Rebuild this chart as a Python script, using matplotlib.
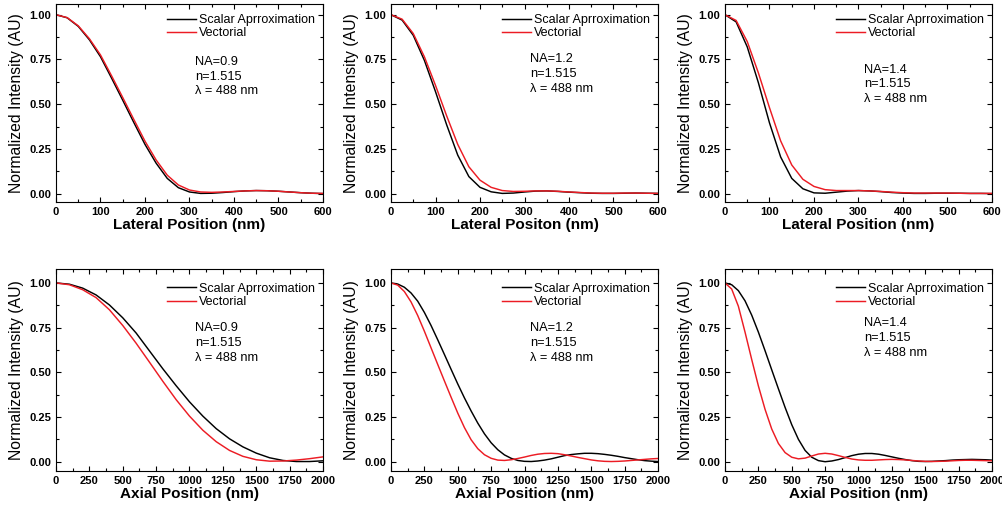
import numpy as np
import matplotlib
matplotlib.use("Agg")
import matplotlib.pyplot as plt
from matplotlib.ticker import MultipleLocator, FormatStrFormatter

plt.rcParams['font.family'] = ['Liberation Sans', 'DejaVu Sans']

# ---------------- data ----------------
lat_x = [0, 25, 50, 75, 100, 125, 150, 175, 200, 225, 250, 275, 300, 325, 350,
         375, 400, 425, 450, 475, 500, 525, 550, 575, 600]

lat09_scalar = [1.0, 0.983, 0.935, 0.86, 0.765, 0.645, 0.522, 0.397, 0.275, 0.17, 0.085,
                0.033, 0.009, 0.001, 0.002, 0.006, 0.011, 0.015, 0.017, 0.016, 0.013,
                0.009, 0.005, 0.002, 0.0]
lat09_vector = [1.0, 0.984, 0.938, 0.866, 0.775, 0.658, 0.537, 0.414, 0.293, 0.188, 0.103,
                0.048, 0.02, 0.009, 0.007, 0.009, 0.012, 0.015, 0.017, 0.016, 0.013,
                0.009, 0.005, 0.002, 0.001]

lat12_scalar = [1.0, 0.97, 0.885, 0.745, 0.57, 0.385, 0.215, 0.095, 0.035, 0.01, 0.001,
                0.003, 0.009, 0.014, 0.015, 0.012, 0.008, 0.005, 0.002, 0.001, 0.001,
                0.002, 0.003, 0.002, 0.001]
lat12_vector = [1.0, 0.975, 0.895, 0.765, 0.605, 0.435, 0.275, 0.15, 0.075, 0.035, 0.017,
                0.012, 0.013, 0.015, 0.015, 0.013, 0.009, 0.006, 0.003, 0.002, 0.002,
                0.003, 0.003, 0.002, 0.001]

lat14_scalar = [1.0, 0.96, 0.82, 0.62, 0.395, 0.205, 0.085, 0.027, 0.004, 0.002, 0.008,
                0.014, 0.017, 0.015, 0.011, 0.006, 0.003, 0.001, 0.001, 0.002, 0.002,
                0.002, 0.001, 0.001, 0.0]
lat14_vector = [1.0, 0.968, 0.85, 0.675, 0.48, 0.295, 0.16, 0.08, 0.04, 0.022, 0.017,
                0.017, 0.017, 0.015, 0.012, 0.008, 0.005, 0.003, 0.003, 0.003, 0.003,
                0.002, 0.001, 0.001, 0.001]

ax09_x = [0, 100, 200, 300, 400, 500, 600, 700, 800, 900, 1000, 1100, 1200, 1300, 1400,
          1500, 1600, 1700, 1800, 1900, 2000]
ax09_scalar = [1.0, 0.993, 0.971, 0.933, 0.877, 0.805, 0.72, 0.62, 0.52, 0.425, 0.335,
               0.255, 0.185, 0.128, 0.083, 0.048, 0.022, 0.007, 0.001, 0.001, 0.005]
ax09_vector = [1.0, 0.99, 0.962, 0.918, 0.85, 0.762, 0.663, 0.557, 0.45, 0.347, 0.255,
               0.176, 0.112, 0.063, 0.03, 0.011, 0.003, 0.004, 0.009, 0.017, 0.027]

ax_x = [0, 50, 100, 150, 200, 250, 300, 350, 400, 450, 500, 550, 600, 650, 700, 750,
        800, 850, 900, 950, 1000, 1050, 1100, 1150, 1200, 1250, 1300, 1350, 1400, 1450,
        1500, 1550, 1600, 1650, 1700, 1750, 1800, 1850, 1900, 1950, 2000]

ax12_scalar = [1.0, 0.994, 0.976, 0.944, 0.898, 0.835, 0.762, 0.682, 0.6, 0.517, 0.435,
               0.357, 0.284, 0.216, 0.156, 0.106, 0.067, 0.038, 0.019, 0.007, 0.002, 0.001,
               0.004, 0.009, 0.016, 0.025, 0.034, 0.04, 0.044, 0.047, 0.047, 0.045, 0.041,
               0.036, 0.03, 0.023, 0.017, 0.011, 0.006, 0.003, 0.001]
ax12_vector = [1.0, 0.988, 0.952, 0.894, 0.818, 0.73, 0.637, 0.544, 0.452, 0.361, 0.272,
               0.191, 0.123, 0.073, 0.039, 0.019, 0.009, 0.007, 0.011, 0.018, 0.026, 0.035,
               0.042, 0.046, 0.047, 0.045, 0.039, 0.032, 0.024, 0.017, 0.01, 0.005, 0.002,
               0.001, 0.002, 0.004, 0.007, 0.01, 0.013, 0.016, 0.018]

ax14_scalar = [1.0, 0.99, 0.957, 0.9, 0.82, 0.725, 0.621, 0.514, 0.408, 0.304, 0.207,
               0.125, 0.063, 0.025, 0.006, 0.0, 0.004, 0.012, 0.023, 0.034, 0.042, 0.046,
               0.046, 0.042, 0.035, 0.027, 0.019, 0.012, 0.006, 0.002, 0.001, 0.002, 0.004,
               0.006, 0.009, 0.011, 0.012, 0.013, 0.012, 0.011, 0.009]
ax14_vector = [1.0, 0.966, 0.87, 0.725, 0.572, 0.424, 0.293, 0.183, 0.102, 0.051, 0.025,
               0.016, 0.02, 0.032, 0.043, 0.047, 0.043, 0.034, 0.024, 0.015, 0.01, 0.008,
               0.008, 0.01, 0.012, 0.013, 0.012, 0.01, 0.007, 0.004, 0.002, 0.001, 0.002,
               0.003, 0.005, 0.007, 0.008, 0.008, 0.007, 0.006, 0.005]

series_labels = ["Scalar Aprroximation", "Vectorial"]
na_labels = ["NA=0.9", "NA=1.2", "NA=1.4"]
medium_label = "n=1.515"
wave_label = "\u03bb = 488 nm"
top_xlabels = ["Lateral Position (nm)", "Lateral Positon (nm)", "Lateral Position (nm)"]
bottom_xlabel = "Axial Position (nm)"
ylabel = "Normalized Intensity (AU)"

panels = [
    (lat_x, lat09_scalar, lat09_vector, na_labels[0], top_xlabels[0]),
    (lat_x, lat12_scalar, lat12_vector, na_labels[1], top_xlabels[1]),
    (lat_x, lat14_scalar, lat14_vector, na_labels[2], top_xlabels[2]),
    (ax09_x, ax09_scalar, ax09_vector, na_labels[0], bottom_xlabel),
    (ax_x, ax12_scalar, ax12_vector, na_labels[1], bottom_xlabel),
    (ax_x, ax14_scalar, ax14_vector, na_labels[2], bottom_xlabel),
]

# ---------------- layout ----------------
W, H = 1003, 508
fig = plt.figure(figsize=(W / 100, H / 100), dpi=100)

lefts = [56, 391, 725]
width = 267
rows = [(4, 202), (269, 471)]
note_y = [0.708, 0.72, 0.669, 0.708, 0.708, 0.733]

RED = '#ec1c24'

for i, (x, ys, yv, na, xl) in enumerate(panels):
    r, c = divmod(i, 3)
    top, bot = rows[r]
    ax = fig.add_axes([lefts[c] / W, 1 - bot / H, width / W, (bot - top) / H])
    ax.plot(x, ys, color='black', lw=1.05, label=series_labels[0])
    ax.plot(x, yv, color=RED, lw=1.05, label=series_labels[1])

    if r == 0:
        ax.set_xlim(0, 600)
        ax.set_ylim(-0.047, 1.06)
        ax.xaxis.set_major_locator(MultipleLocator(100))
        ax.xaxis.set_minor_locator(MultipleLocator(50))
    else:
        ax.set_xlim(0, 2000)
        ax.set_ylim(-0.052, 1.078)
        ax.xaxis.set_major_locator(MultipleLocator(250))
        ax.xaxis.set_minor_locator(MultipleLocator(125))
    ax.yaxis.set_major_locator(MultipleLocator(0.25))
    ax.yaxis.set_minor_locator(MultipleLocator(0.125))
    ax.yaxis.set_major_formatter(FormatStrFormatter('%.2f'))

    ax.tick_params(which='both', direction='in', top=True, right=True, width=0.8)
    ax.tick_params(which='major', length=3.5, pad=3.5, labelsize=8)
    ax.tick_params(which='minor', length=2)
    for lab in ax.get_xticklabels() + ax.get_yticklabels():
        lab.set_fontweight('bold')
    for sp in ax.spines.values():
        sp.set_linewidth(0.8)

    ax.set_xlabel(xl, fontsize=11, fontweight='bold', labelpad=1)
    ax.set_ylabel(ylabel, fontsize=11.3, labelpad=4)

    leg_top = 0.95 if r == 0 else 0.932
    ax.legend(loc='upper left', bbox_to_anchor=(0.415, leg_top), frameon=False,
              fontsize=9, handlelength=2.3, handletextpad=0.3, labelspacing=0.12,
              borderpad=0, borderaxespad=0)

    ny = note_y[i]
    dy = 14.8 / (bot - top)
    for k, t in enumerate([na, medium_label, wave_label]):
        ax.text(0.52, ny - k * dy, t, transform=ax.transAxes, fontsize=9.2,
                va='center', ha='left')

fig.savefig('out.png', dpi=100)
